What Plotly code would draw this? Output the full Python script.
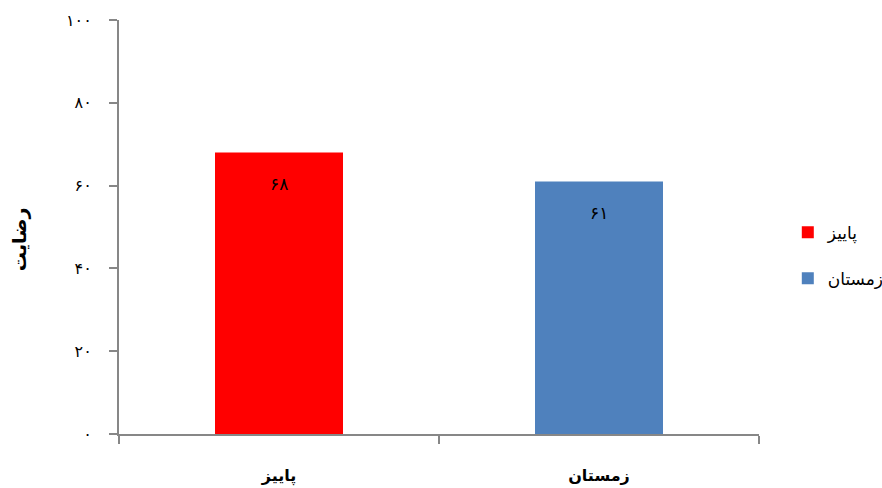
import plotly.graph_objects as go

categories = ["پاییز", "زمستان"]
values = [68, 61]
colors = ["#FF0000", "#4F81BD"]
y_ticks = [0, 20, 40, 60, 80, 100]
y_title = "رضایت"

FA = str.maketrans("0123456789", "۰۱۲۳۴۵۶۷۸۹")
def fa(n):
    return str(n).translate(FA)

FONT = "DejaVu Sans"
fig = go.Figure()
for c, v, col in zip(categories, values, colors):
    fig.add_trace(go.Bar(x=[c], y=[v], name=c, legendgroup=c,
                         marker=dict(color=col, line=dict(width=0)),
                         width=0.4, showlegend=True, hoverinfo="skip"))
    fig.add_annotation(x=c, y=v, text=fa(v), showarrow=False, yshift=-32,
                       font=dict(family=FONT, size=17, color="#000"))

fig.add_annotation(xref="paper", yref="paper", x=-0.155, y=0.47, text=y_title,
                   textangle=-90, showarrow=False, xanchor="center", yanchor="middle",
                   font=dict(family=FONT, size=19, color="#000", weight="bold"))

axis_col = "#878787"
fig.update_layout(
    width=882, height=488,
    margin=dict(l=119, r=123, t=20, b=54, autoexpand=False),
    paper_bgcolor="white", plot_bgcolor="white",
    barmode="overlay",
    font=dict(family=FONT, color="#000"),
    legend=dict(x=1.045, y=0.53, xanchor="left", yanchor="top",
                font=dict(family=FONT, size=17), tracegroupgap=21,
                itemwidth=30),
    xaxis=dict(type="category", showline=True, linecolor=axis_col, linewidth=2,
               ticks="outside", tickson="boundaries", ticklen=8, tickcolor=axis_col,
               tickwidth=2, showgrid=False, zeroline=False, automargin=False,
               tickfont=dict(family=FONT, size=16, color="#000", weight="bold"),
               ticklabelstandoff=26),
    yaxis=dict(range=[0, 100], tickvals=y_ticks, ticktext=[fa(t) for t in y_ticks],
               showline=True, linecolor=axis_col, linewidth=2, automargin=False,
               ticks="outside", ticklen=8, tickcolor=axis_col, tickwidth=2,
               showgrid=False, zeroline=False,
               tickfont=dict(family=FONT, size=16, color="#000"),
               ticklabelstandoff=14),
)
fig.write_html("out.html", config={"displayModeBar": False},
               post_script="document.body.style.margin='0px';document.body.style.overflow='hidden';")
